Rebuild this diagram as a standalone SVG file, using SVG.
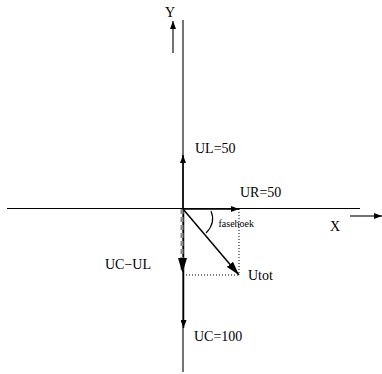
<svg xmlns="http://www.w3.org/2000/svg" width="382" height="374" viewBox="0 0 382 374">
<style>
.ax{stroke:#000;stroke-width:1.1;fill:none}
.vec{stroke:#000;stroke-width:1.5;fill:none}
.dot{stroke:#000;stroke-width:1;stroke-dasharray:1 2;fill:none}
.t{font-family:"Liberation Serif","Times New Roman",serif;font-size:14px;fill:#000}
.s{font-family:"Liberation Serif","Times New Roman",serif;font-size:10px;fill:#000}
</style>
<defs>
<marker id="ah" markerWidth="8" markerHeight="6" refX="8" refY="3" orient="auto" markerUnits="userSpaceOnUse"><path d="M0,0 L8,3 L0,6 Z" fill="#000"/></marker>
<marker id="ahb" markerWidth="14" markerHeight="8" refX="14" refY="4" orient="auto" markerUnits="userSpaceOnUse"><path d="M0,0 L14,4 L0,8 Z" fill="#000"/></marker>
</defs>
<g id="axes">
<line class="ax" x1="7" y1="208.5" x2="360" y2="208.5"/>
<line class="ax" x1="183" y1="20" x2="183" y2="372"/>
<line class="ax" x1="173" y1="53" x2="173" y2="21" marker-end="url(#ah)"/>
<line class="ax" x1="350" y1="216" x2="382" y2="216" marker-end="url(#ah)"/>
</g>
<g id="connectors">
<line class="dot" x1="239" y1="209" x2="239" y2="275"/>
<line class="dot" x1="183" y1="275" x2="239" y2="275"/>
<line class="vec" x1="183" y1="209" x2="183" y2="155" marker-end="url(#ah)"/>
<line class="vec" x1="183" y1="209" x2="239" y2="209" marker-end="url(#ah)"/>
<line class="vec" x1="183.5" y1="209" x2="183.5" y2="328" marker-end="url(#ah)"/>
<line x1="182" y1="209" x2="182" y2="272" stroke="#888" stroke-width="3" stroke-dasharray="5 3"/>
<path d="M178,258 L182.5,273 L187,258 Z" fill="#000"/>
<line class="vec" x1="183" y1="209" x2="239" y2="275" marker-end="url(#ahb)"/>
<path class="ax" d="M211,211 Q216,223 206,233"/>
</g>
<g id="labels">
<text class="t" x="165" y="17">Y</text>
<text class="t" x="330" y="231">X</text>
<text class="t" x="195" y="153">UL=50</text>
<text class="t" x="240" y="197">UR=50</text>
<text class="s" x="218.5" y="227">fasehoek</text>
<text class="t" x="105" y="269">UC−UL</text>
<text class="t" x="248" y="280">Utot</text>
<text class="t" x="194" y="341">UC=100</text>
</g>
</svg>
